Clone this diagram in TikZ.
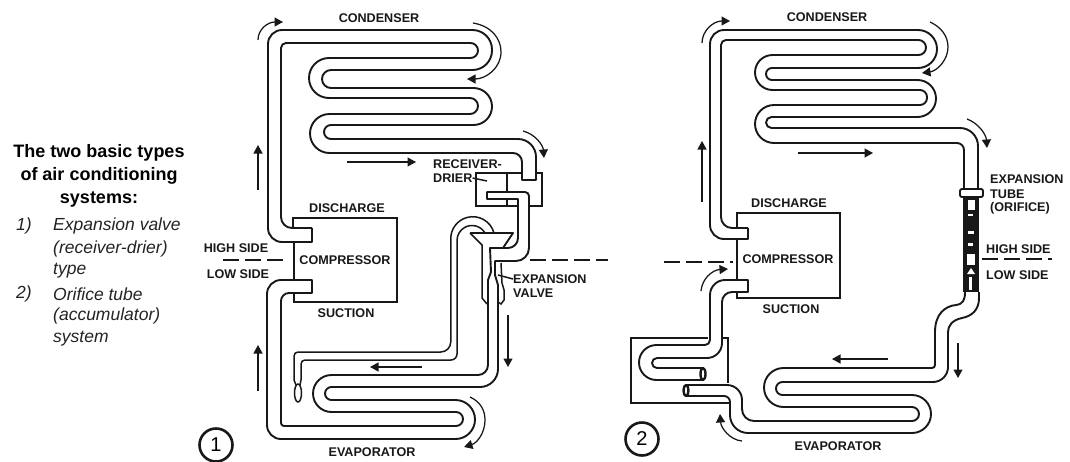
\documentclass[tikz,border=0pt]{standalone}
\usepackage{fontspec}
\usepackage{xcolor}
\usetikzlibrary{calc,arrows.meta,positioning}
\setmainfont{Liberation Sans}
\definecolor{acInk}{RGB}{24,24,24}
\definecolor{acText}{RGB}{35,35,35}
\tikzset{
  tube/.style={draw=acInk, line width=1.9pt, line join=round},
  thin tube/.style={draw=acInk, line width=1.5pt},
  flow/.style={draw=acInk, line width=1.25pt, -{Triangle[length=8.5pt,width=9pt]}},
  side line/.style={draw=acInk, line width=1.5pt, dash pattern=on 16pt off 6pt},
  partlabel/.style={text=acInk, inner sep=0pt, font=\fontsize{12.6}{14}\selectfont\bfseries},
  leftlabel/.style={partlabel, anchor=west},
  numcircle/.style={circle, draw=acInk, line width=2.6pt, minimum size=33pt, inner sep=0pt, font=\fontsize{20}{22}\selectfont},
  intro/.style={text=black, inner sep=0pt, font=\fontsize{18}{23}\selectfont\bfseries, align=center},
  listtext/.style={text=acText, inner sep=0pt, anchor=west, font=\fontsize{17.5}{23}\selectfont\itshape}
}
\begin{document}
\begin{tikzpicture}[x=1pt,y=-1pt]
    \useasboundingbox (0,0) rectangle (1070,461);

    % side text
    \node[intro] (title) at (99,175.5) {The two basic types\\of air conditioning\\systems:};
    \node[listtext] (n1) at (16,226) {1)};
    \node[listtext] (i1a) at (53,226) {Expansion valve};
    \node[listtext] (i1b) at (53,249) {(receiver-drier)};
    \node[listtext] (i1c) at (53,271) {type};
    \node[listtext] (n2) at (16,294) {2)};
    \node[listtext] (i2a) at (53,294) {Orifice tube};
    \node[listtext] (i2b) at (53,316) {(accumulator)};
    \node[listtext] (i2c) at (53,339) {system};

    %%% system 1
    % compressor
    \draw[thin tube] (293,228) -- (293,218) -- (397,218) -- (397,302) -- (294,302) -- (294,293);
    \draw[thin tube] (294,242) -- (294,280);

    % condenser tube
    \draw[tube] (312,228) -- (312,242) -- (282,242)
        [rounded corners=14pt] -- (268,242) -- (268,30)
        [rounded corners=19.5pt] -- (492,30) -- (492,70)
        [rounded corners=9pt] -- (322,70) -- (322,88)
        [rounded corners=18.5pt] -- (492,88) -- (492,125)
        [rounded corners=7pt] -- (324,125) -- (324,139)
        [rounded corners=18pt] -- (536,139)
        [sharp corners] -- (536,180) -- (522,180)
        [rounded corners=9pt] -- (522,153)
        [rounded corners=19.5pt] -- (310,153) -- (310,114)
        [rounded corners=8pt] -- (478,114) -- (478,98)
        [rounded corners=20pt] -- (309,98) -- (309,58)
        [rounded corners=7.5pt] -- (478,58) -- (478,43)
        [rounded corners=5pt] -- (281,43)
        [rounded corners=11pt] -- (281,228) -- (312,228);

    % receiver-drier
    \draw[thin tube] (522,173) -- (476,173) -- (476,206) -- (518,206);
    \draw[thin tube] (536,173) -- (542,173) -- (542,206) -- (529,206);
    \draw[thin tube] (507,173) -- (507,192) (507,199) -- (507,206);

    % evaporator tube with valve and drier outlet
    \draw[tube] (470,233) -- (513,233) -- (503,248) -- (490,248) -- (491,272) -- (488,280)
        [rounded corners=10pt] -- (488,375)
        [rounded corners=18.5pt] -- (313,375) -- (313,412)
        [rounded corners=7pt] -- (463,412) -- (463,426)
        [rounded corners=3pt] -- (281,426)
        [rounded corners=8pt] -- (281,293)
        [sharp corners] -- (312,293) -- (312,280)
        [rounded corners=14pt] -- (267,280) -- (267,439)
        [rounded corners=19.5pt] -- (475,439) -- (475,400)
        [rounded corners=6.5pt] -- (325,400) -- (325,387)
        [rounded corners=18pt] -- (498,387)
        [sharp corners] -- (498,285) -- (495,275) -- (495,261)
        [rounded corners=13pt] -- (529,261)
        [rounded corners=4pt] -- (529,192)
        [sharp corners] -- (487,192) -- (487,199) -- (518,199)
        [rounded corners=10pt] -- (518,248) -- (503,248);

    % valve body
    \draw[thin tube] (470,233) -- (482,245) -- (482,298) -- (487,304);
    \draw[thin tube] (501,263) -- (502,283) -- (504,290) -- (504,300) -- (501,304) -- (498,302);

    % sensing line and bulb
    \draw[thin tube] (494,233) arc[start angle=-15,end angle=-180,radius=22]
        [rounded corners=10pt] -- (450.75,352)
        [rounded corners=4pt] -- (294,352) -- (294,380);
    \draw[thin tube] (485,233) arc[start angle=-30,end angle=-180,radius=15]
        [rounded corners=6pt] -- (457,360)
        [rounded corners=4pt] -- (301,360) -- (301,380);
    \draw[thin tube] (294,380) -- (296,385) (301,380) -- (300,385);
    \draw[thin tube] (298,393) ellipse (3.5 and 9);

    % labels
    \node[partlabel] (cond1) at (379,18) {CONDENSER};
    \node[partlabel] (disc1) at (347,208) {DISCHARGE};
    \node[partlabel] (comp1) at (345,260) {COMPRESSOR};
    \node[partlabel] (suct1) at (346,313) {SUCTION};
    \node[partlabel] (high1) at (236,248) {HIGH SIDE};
    \node[partlabel] (low1) at (238,274) {LOW SIDE};
    \node[partlabel] (evap1) at (372,452) {EVAPORATOR};
    \node[leftlabel] (recv1) at (433,164) {RECEIVER-};
    \node[leftlabel] (drier1) at (433,178) {DRIER};
    \node[leftlabel] (valve1a) at (513,279) {EXPANSION};
    \node[leftlabel] (valve1b) at (513,293) {VALVE};
    \node[numcircle] (num1) at (216,445) {1};

    % leaders
    \coordinate (recvend) at (487,181);
    \coordinate (valveend) at (498,275);
    \draw[thin tube] (drier1.east) -- (recvend);
    \draw[thin tube] (valve1a.west) -- (valveend);

    % dashed side lines
    \draw[side line] (223,260) -- (285,260);
    \draw[side line] (530,260) -- (608,260);

    % flow arrows
    \draw[flow] (258,40) .. controls (258,29) and (268,22) .. (283,22);
    \draw[flow] (473,23) .. controls (491,26) and (501,38) .. (501,52) .. controls (501,68) and (486,79) .. (467,79);
    \draw[flow] (258,190) -- (258,145);
    \draw[flow] (347,162) -- (416,162);
    \draw[flow] (523,131) .. controls (535,134) and (543,145) .. (544,158);
    \draw[flow] (508,315) -- (508,367);
    \draw[flow] (422,367) -- (370,367);
    \draw[flow] (258,391) -- (258,345);
    \draw[flow] (470,397) .. controls (481,402) and (485,411) .. (485,420) .. controls (485,433) and (477,443) .. (464,447);

    %%% system 2
    % compressor
    \draw[thin tube] (737,228) -- (737,213) -- (840,213) -- (840,298) -- (737,298) -- (737,292);
    \draw[thin tube] (737,239) -- (737,280);

    % condenser tube
    \draw[tube] (748,228) -- (748,239) -- (725,239)
        [rounded corners=14pt] -- (710,239) -- (710,30)
        [rounded corners=19pt] -- (937,30) -- (937,68)
        [rounded corners=6pt] -- (766,68) -- (766,80)
        [rounded corners=18.5pt] -- (936,80) -- (936,117)
        [rounded corners=5.5pt] -- (766,117) -- (766,128)
        [rounded corners=18pt] -- (978,128)
        [sharp corners] -- (978,189) -- (964,189)
        [rounded corners=7pt] -- (964,143)
        [rounded corners=19pt] -- (755,143) -- (755,105)
        [rounded corners=7pt] -- (927,105) -- (927,90)
        [rounded corners=17.5pt] -- (755,90) -- (755,55)
        [rounded corners=7.5pt] -- (926,55) -- (926,40)
        [rounded corners=5pt] -- (721,40)
        [rounded corners=11pt] -- (721,228) -- (748,228);

    % expansion tube
    \fill[acInk] (965,197) rectangle (977,292);
    \draw[thin tube] (964,197) -- (964,292) (978,197) -- (978,292);
    \fill[white] (968,200) rectangle (975,210);
    \fill[white] (968,214) rectangle (973,216);
    \fill[white] (968,231) rectangle (974,234);
    \fill[white] (968,243) rectangle (973,246);
    \fill[white] (967,254) rectangle (975,265);
    \fill[white] (967,274) -- (971,268) -- (975,274) -- cycle;
    \fill[white] (969,277) rectangle (972,290);
    \draw[tube, fill=white, rounded corners=2pt] (960,189) rectangle (983,197);

    % accumulator
    \draw[thin tube] (708,338) -- (631,338) -- (631,403) -- (729,403);
    \draw[thin tube] (722,338) -- (728,338) -- (728,383);

    % suction side tube
    \draw[tube] (703,368) [rounded corners=5pt] -- (652,368) -- (652,358)
        [rounded corners=15pt] -- (722,358)
        [rounded corners=10pt] -- (722,292)
        [sharp corners] -- (748,292) -- (748,280)
        [rounded corners=15pt] -- (710,280)
        [rounded corners=5pt] -- (710,345)
        [rounded corners=17.5pt] -- (639,345) -- (639,380) -- (703,380);
    \draw[tube, line width=2.4pt] (703,374) ellipse (2.5 and 6);

    % evaporator tube
    \draw[tube] (686,385)
        [rounded corners=15pt] -- (742,385)
        [rounded corners=12pt] -- (742,421)
        [rounded corners=7pt] -- (919,421) -- (919,407)
        [rounded corners=19.5pt] -- (764,407) -- (764,368)
        [rounded corners=3pt] -- (935,368)
        [sharp corners] -- (935,332) .. controls (935,314) and (945,306) .. (956,305)
        .. controls (963,304) and (965,300) .. (965,292);
    \draw[tube] (686,396)
        [rounded corners=6pt] -- (730,396)
        [rounded corners=18pt] -- (730,433)
        [rounded corners=19pt] -- (931,433) -- (931,395)
        [rounded corners=6.5pt] -- (776,395) -- (776,382)
        [rounded corners=15pt] -- (948,382)
        [sharp corners] -- (948,332) .. controls (948,326) and (952,320) .. (962,318)
        .. controls (972,316) and (979,310) .. (979,298) -- (979,292);
    \draw[tube, line width=2.4pt] (686,390.5) ellipse (2.5 and 5.5);

    % labels
    \node[partlabel] (cond2) at (827,17) {CONDENSER};
    \node[partlabel] (disc2) at (789,203) {DISCHARGE};
    \node[partlabel] (comp2) at (788,259) {COMPRESSOR};
    \node[partlabel] (suct2) at (791,309) {SUCTION};
    \node[partlabel] (evap2) at (838,446) {EVAPORATOR};
    \node[leftlabel] (tube2a) at (990,179) {EXPANSION};
    \node[leftlabel] (tube2b) at (990,194) {TUBE};
    \node[leftlabel] (tube2c) at (990,208) {(ORIFICE)};
    \node[leftlabel] (high2) at (986,249) {HIGH SIDE};
    \node[leftlabel] (low2) at (986,275) {LOW SIDE};
    \node[numcircle] (num2) at (642,439) {2};

    % dashed side lines
    \draw[side line] (664,262) -- (733,262);
    \draw[side line] (982,259) -- (1052,259);

    % flow arrows
    \draw[flow] (702,43) .. controls (702,31) and (713,21) .. (730,21);
    \draw[flow] (930,22) .. controls (941,27) and (948,36) .. (948,47) .. controls (948,60) and (937,71) .. (922,73);
    \draw[flow] (702,202) -- (702,141);
    \draw[flow] (798,153) -- (873,153);
    \draw[flow] (967,119) .. controls (978,123) and (986,134) .. (987,148);
    \draw[flow] (888,359) -- (832,359);
    \draw[flow] (958,343) -- (958,378);
    \draw[flow] (701,291) .. controls (702,279) and (712,270) .. (728,269);
    \draw[flow] (742,441) .. controls (730,440) and (721,428) .. (720,414);
\end{tikzpicture}
\end{document}
